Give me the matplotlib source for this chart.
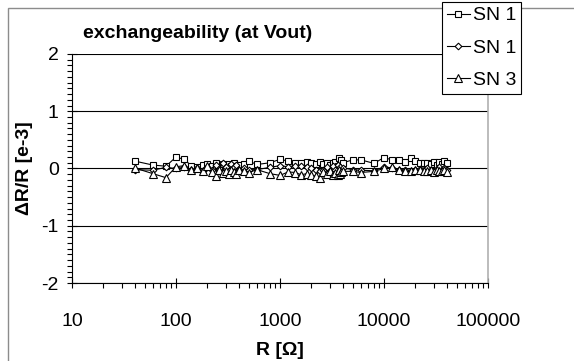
import matplotlib
matplotlib.use("Agg")
import matplotlib.pyplot as plt
from matplotlib.patches import Rectangle
from matplotlib.ticker import FixedLocator, MultipleLocator, LogLocator, NullFormatter

plt.rcParams["font.family"] = ["Liberation Sans", "DejaVu Sans"]
plt.rcParams["axes.unicode_minus"] = False

# resistance values [Ohm]
r_values = [40, 60, 80, 100, 120, 140, 160, 180, 200, 220,
            240, 260, 280, 300, 320, 340, 360, 380, 400, 450,
            500, 600, 800, 1000, 1200, 1400, 1600, 1800, 2000, 2200,
            2400, 2600, 2800, 3000, 3200, 3400, 3600, 3700, 3800, 3900,
            4000, 5000, 6000, 8000, 10000, 12000, 14000, 16000, 18000, 20000,
            22000, 24000, 26000, 28000, 30000, 32000, 34000, 36000, 38000, 40000]

# dR/R [e-3]
sn1_a = [0.13, 0.06, 0.04, 0.20, 0.16, 0.05, 0.03, 0.06, 0.08, 0.05,
         0.10, 0.03, 0.07, 0.02, 0.08, 0.05, 0.09, 0.04, 0.06, 0.08,
         0.13, 0.07, 0.10, 0.16, 0.13, 0.09, 0.10, 0.11, 0.10, 0.07,
         0.12, 0.08, 0.10, 0.06, 0.09, 0.12, 0.05, 0.18, 0.08, 0.15,
         0.10, 0.15, 0.15, 0.09, 0.19, 0.15, 0.14, 0.12, 0.19, 0.13,
         0.10, 0.09, 0.10, 0.07, 0.11, 0.06, 0.12, 0.08, 0.13, 0.10]

sn1_b = [-0.02, -0.03, 0.02, 0.00, 0.02, -0.03, 0.00, -0.05, 0.03, -0.02,
         0.06, -0.04, 0.10, 0.03, -0.05, 0.08, 0.02, 0.06, -0.02, 0.00,
         -0.02, -0.02, 0.02, 0.05, 0.03, 0.05, 0.04, 0.02, 0.00, -0.03,
         -0.05, -0.02, 0.02, -0.06, 0.04, -0.03, 0.06, -0.08, 0.03, -0.04,
         0.01, -0.02, -0.03, -0.04, 0.03, 0.01, -0.02, -0.03, -0.04, -0.02,
         -0.01, -0.03, 0.00, -0.02, -0.04, -0.01, 0.02, -0.03, 0.00, -0.02]

sn3 = [0.01, -0.09, -0.16, 0.03, 0.05, -0.02, 0.00, -0.04, 0.05, -0.06,
       -0.13, -0.03, -0.08, -0.05, -0.10, -0.02, -0.06, -0.09, -0.03, -0.04,
       -0.07, -0.02, -0.09, -0.12, -0.06, -0.07, -0.11, -0.09, -0.12, -0.13,
       -0.16, -0.06, -0.10, -0.04, -0.11, -0.07, -0.12, -0.03, -0.09, -0.06,
       -0.05, -0.05, -0.07, -0.05, 0.00, 0.02, -0.03, -0.04, -0.05, -0.03,
       -0.02, -0.04, -0.05, -0.03, -0.06, -0.02, -0.04, -0.05, -0.03, -0.06]

series_labels = ["SN 1", "SN 1", "SN 3"]

fig = plt.figure(figsize=(5.74, 3.61), dpi=100)

# outer chart frame (cropped at right/bottom)
fig.patches.append(Rectangle((8 / 574, -0.1), 1.2, 1 - 8 / 361 + 0.1,
                             transform=fig.transFigure, fill=False,
                             edgecolor="#8c8c8c", linewidth=1.0))

ax = fig.add_axes([72 / 574, 1 - 283 / 361, (488 - 72) / 574, (283 - 54) / 361])

ax.plot(r_values, sn1_a, color="black", linewidth=0.8, marker="s",
        markersize=5.0, markerfacecolor="white", markeredgecolor="black",
        markeredgewidth=0.8, label=series_labels[0], zorder=3)
ax.plot(r_values, sn1_b, color="black", linewidth=0.8, marker="D",
        markersize=3.4, markerfacecolor="white", markeredgecolor="black",
        markeredgewidth=0.8, label=series_labels[1], zorder=3)
ax.plot(r_values, sn3, color="black", linewidth=0.8, marker="^",
        markersize=5.2, markerfacecolor="white", markeredgecolor="black",
        markeredgewidth=0.8, label=series_labels[2], zorder=3)

ax.set_xscale("log")
ax.set_xlim(10, 100000)
ax.set_ylim(-2, 2)

ax.xaxis.set_major_locator(FixedLocator([10, 100, 1000, 10000, 100000]))
ax.xaxis.set_minor_locator(LogLocator(base=10, subs=range(2, 10)))
ax.xaxis.set_minor_formatter(NullFormatter())
ax.set_xticklabels(["10", "100", "1000", "10000", "100000"])
ax.yaxis.set_major_locator(MultipleLocator(1))
ax.yaxis.set_minor_locator(MultipleLocator(0.1))

ax.grid(axis="y", which="major", color="black", linewidth=0.8)
ax.set_axisbelow(True)

ax.tick_params(axis="both", which="major", direction="inout", length=7,
               width=0.8, labelsize=14, color="black")
ax.tick_params(axis="both", which="minor", direction="out", length=3.5,
               width=0.8, color="black")
ax.tick_params(axis="x", which="major", pad=18)
ax.tick_params(axis="y", which="major", pad=6)

ax.spines["top"].set_visible(False)
ax.spines["right"].set_color("#b0b0b0")
ax.spines["right"].set_linewidth(1.2)
ax.spines["left"].set_linewidth(0.8)
ax.spines["bottom"].set_linewidth(0.8)

ax.set_xlabel("R [Ω]", fontsize=14, fontweight="bold", labelpad=9)
ax.set_ylabel("ΔR/R [e-3]", fontsize=14, fontweight="bold", labelpad=6)
fig.text(198 / 574, 1 - 33 / 361, "exchangeability (at Vout)",
         fontsize=14, fontweight="bold", ha="center", va="center")

leg = fig.legend(loc="upper right", bbox_to_anchor=(521 / 574, 1 - 2 / 361),
                 fontsize=14, frameon=True, fancybox=False, shadow=False,
                 handlelength=1.2, handletextpad=0.15, borderpad=0.25,
                 labelspacing=0.75, borderaxespad=0)
leg.get_frame().set_edgecolor("black")
leg.get_frame().set_linewidth(0.8)
leg.get_frame().set_alpha(1)

fig.savefig("out.png", dpi=100)
plt.close(fig)
